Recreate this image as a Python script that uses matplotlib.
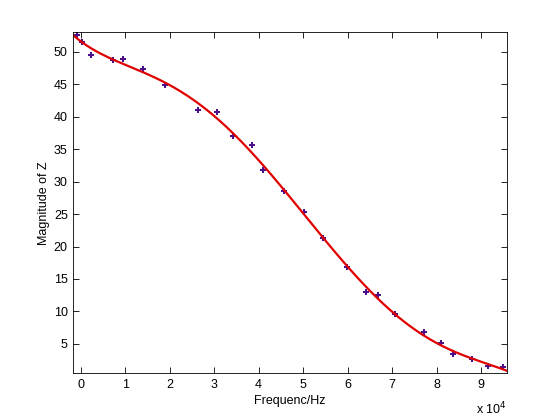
import numpy as np
import matplotlib
matplotlib.use('Agg')
import matplotlib.pyplot as plt
from matplotlib.ticker import FuncFormatter

# 测量数据（频率 Hz，阻抗幅值）
freq = [-765, 360, 2385, 7200, 9580, 14080, 18850, 26460, 30600, 34330,
        38600, 41080, 45800, 50120, 54440, 59840, 64250, 66950, 70770,
        77080, 80950, 83640, 87960, 91560, 94890]
mag_z = [52.53, 51.45, 49.49, 48.77, 48.83, 47.29, 44.84, 40.97, 40.66, 37.06,
         35.58, 31.73, 28.54, 25.25, 21.34, 16.78, 12.93, 12.47, 9.54,
         6.77, 5.09, 3.42, 2.73, 1.54, 1.37]

x_lim = (-1660, 95800)
y_lim = (0.45, 53.0)

# 多项式拟合
coef = np.polyfit(np.array(freq) / 1e4, mag_z, 5)
xf = np.linspace(x_lim[0], x_lim[1], 400)
yf = np.polyval(coef, xf / 1e4)

plt.rcParams['font.family'] = ['Liberation Sans', 'DejaVu Sans']

fig = plt.figure(figsize=(5.6, 4.2), dpi=100)
ax = fig.add_axes([0.131, 0.111, 0.774, 0.812])

ax.plot(freq, mag_z, 'P', color='#4b0f8c', markersize=4.8, markeredgewidth=0)
ax.plot(xf, yf, '-', color='#e00000', linewidth=1.6)

ax.set_xlim(x_lim)
ax.set_ylim(y_lim)
ax.set_xticks(np.arange(0, 10) * 1e4)
ax.xaxis.set_major_formatter(FuncFormatter(lambda v, p: f'{v / 1e4:.0f}'))
ax.set_yticks(np.arange(5, 55, 5))
ax.tick_params(direction='in', top=True, right=True, length=4, width=0.6,
               labelsize=9, pad=4)
for s in ax.spines.values():
    s.set_linewidth(0.6)

ax.set_xlabel('Frequenc/Hz', fontsize=9, labelpad=3)
ax.set_ylabel('Magnitude of Z', fontsize=9, labelpad=3)
ax.text(1.0, -0.08, r'x 10$^4$', transform=ax.transAxes, ha='right',
        va='top', fontsize=9)

fig.savefig('out.png', dpi=100)
